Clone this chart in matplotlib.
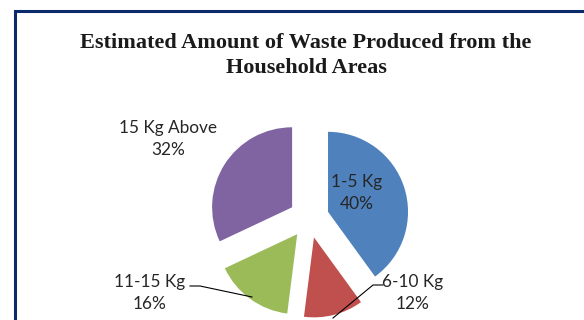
import matplotlib.pyplot as plt
from matplotlib.patches import Rectangle

categories = ['1-5 Kg', '6-10 Kg', '11-15 Kg', '15 Kg Above']
shares = [40, 12, 16, 32]
colors = ['#4F81BD', '#C0504D', '#9BBB59', '#8064A2']
title = 'Estimated Amount of Waste Produced from the\nHousehold Areas'

W, H = 584, 320
fig = plt.figure(figsize=(W / 100, H / 100), dpi=100)
ax = fig.add_axes([0, 0, 1, 1])

# pie in pixel coordinates (y up)
ax.pie(shares, colors=colors, startangle=90, counterclock=False,
       center=(309, H - 218), radius=80, explode=[20] * len(shares),
       wedgeprops=dict(linewidth=0), frame=True)
ax.set_xlim(0, W)
ax.set_ylim(0, H)
ax.set_aspect('equal')
ax.axis('off')

# frame of the chart area (runs off the right and bottom)
fig.patches.append(Rectangle((14.5 / W, -0.1), 1.2, (H - 10.5) / H + 0.1,
                             transform=fig.transFigure, fill=False,
                             edgecolor='#0B2A6B', linewidth=2.2))

fig.text(306 / W, 1 - 55.5 / H, title, ha='center', va='center',
         family='Liberation Serif', weight='bold', fontsize=16,
         linespacing=1.38, color='#1a1a1a')

lab = dict(family=['Lato', 'DejaVu Sans'], fontsize=12.4, color='#262626',
           ha='center', va='center', linespacing=1.5)
ax.text(357, H - 193, f'{categories[0]}\n{shares[0]}%', **lab)
ax.text(168, H - 139, f'{categories[3]}\n{shares[3]}%', **lab)
ax.text(150, H - 293, f'{categories[2]}\n{shares[2]}%', **lab)
ax.text(413, H - 293, f'{categories[1]}\n{shares[1]}%', **lab)

# leader lines
ax.plot([333, 373, 383], [H - 318, H - 285, H - 285], color='black', lw=0.8)
ax.plot([190, 200, 252], [H - 286, H - 286, H - 297], color='black', lw=0.8)

fig.savefig('out.png', dpi=100)
